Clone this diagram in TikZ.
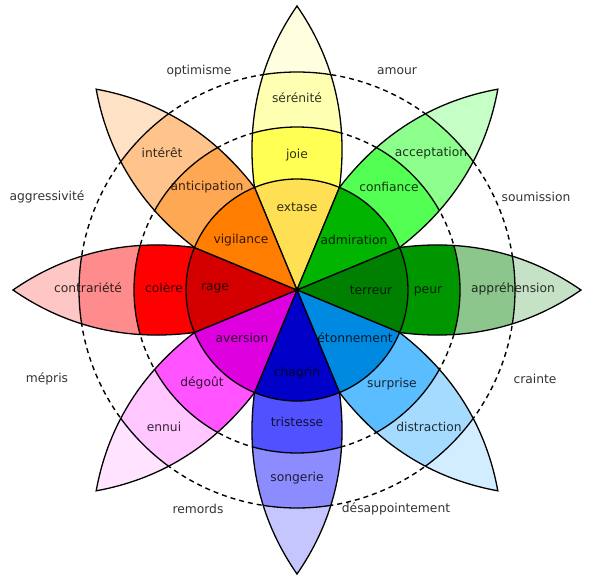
\documentclass[tikz,border=0pt]{standalone}
\usepackage{fontspec}
\setmainfont{DejaVu Sans}
\usepackage{tikz}
\usetikzlibrary{arrows.meta}

\definecolor{extaseC}{HTML}{FFE054}
\definecolor{joieC}{HTML}{FFFF54}
\definecolor{sereniteC}{HTML}{FFFFB1}
\definecolor{joieTip}{HTML}{FFFFE0}
\definecolor{admirationC}{HTML}{00B400}
\definecolor{confianceC}{HTML}{54FF54}
\definecolor{acceptationC}{HTML}{8CFF8C}
\definecolor{confianceTip}{HTML}{C6FFC6}
\definecolor{terreurC}{HTML}{008000}
\definecolor{peurC}{HTML}{009600}
\definecolor{apprehensionC}{HTML}{8CC68C}
\definecolor{peurTip}{HTML}{C6E2C6}
\definecolor{etonnementC}{HTML}{0089E0}
\definecolor{surpriseC}{HTML}{59BDFF}
\definecolor{distractionC}{HTML}{A5DBFF}
\definecolor{surpriseTip}{HTML}{D2EDFF}
\definecolor{chagrinC}{HTML}{0000C8}
\definecolor{tristesseC}{HTML}{5151FF}
\definecolor{songerieC}{HTML}{8C8CFF}
\definecolor{tristesseTip}{HTML}{C6C6FF}
\definecolor{aversionC}{HTML}{DE00DE}
\definecolor{degoutC}{HTML}{FF54FF}
\definecolor{ennuiC}{HTML}{FFC6FF}
\definecolor{degoutTip}{HTML}{FFE3FF}
\definecolor{rageC}{HTML}{D40000}
\definecolor{colereC}{HTML}{FF0000}
\definecolor{contrarieteC}{HTML}{FF8C8C}
\definecolor{colereTip}{HTML}{FFC6C6}
\definecolor{vigilanceC}{HTML}{FF7D00}
\definecolor{anticipationC}{HTML}{FFA854}
\definecolor{interetC}{HTML}{FFC48C}
\definecolor{anticipationTip}{HTML}{FFE2C6}

% one petal: angle, inner, middle, outer and tip colours
\newcommand{\petal}[5]{%
	\begin{scope}[shift={(297,290)}, rotate=#1]
		\begin{scope}
			\clip (0,0) -- (-42.5,-102.6) .. controls (-52,-175) and (-34,-235) .. (0,-284)
				.. controls (34,-235) and (52,-175) .. (42.5,-102.6) -- cycle;
			\fill [#5] (-70,-300) rectangle (70,0);
			\fill [#4] (0,0) circle (218);
			\fill [#3] (0,0) circle (163);
			\fill [#2] (0,0) circle (111);
			\draw [edge] (0,0) circle (111) (0,0) circle (163) (0,0) circle (218);
		\end{scope}
		\draw [edge] (0,0) -- (-42.5,-102.6) .. controls (-52,-175) and (-34,-235) .. (0,-284)
			.. controls (34,-235) and (52,-175) .. (42.5,-102.6) -- cycle;
	\end{scope}}

\begin{document}
\begin{tikzpicture}[x=1pt, y=-1pt,
	edge/.style={draw=black, line width=1.3pt},
	ring/.style={draw=black, line width=1.4pt, dash pattern=on 5pt off 4pt},
	lbl/.style={text=black, text opacity=0.8, font=\fontsize{12.3}{14}\selectfont, inner sep=0pt}]
	\useasboundingbox (0,0) rectangle (590,578);
	\coordinate (c) at (297,290);
	
	\draw [ring] (c) circle (163);
	\draw [ring] (c) circle (218);
	
	\petal{0}{extaseC}{joieC}{sereniteC}{joieTip}
	\petal{-45}{admirationC}{confianceC}{acceptationC}{confianceTip}
	\petal{-90}{terreurC}{peurC}{apprehensionC}{peurTip}
	\petal{-135}{etonnementC}{surpriseC}{distractionC}{surpriseTip}
	\petal{180}{chagrinC}{tristesseC}{songerieC}{tristesseTip}
	\petal{135}{aversionC}{degoutC}{ennuiC}{degoutTip}
	\petal{90}{rageC}{colereC}{contrarieteC}{colereTip}
	\petal{45}{vigilanceC}{anticipationC}{interetC}{anticipationTip}
	
	\node [lbl] (extase) at (297, 207) {extase};
	\node [lbl] (joie) at (297, 155) {joie};
	\node [lbl] (serenite) at (297, 98) {sérénité};
	
	\node [lbl] (admiration) at (354, 240) {admiration};
	\node [lbl] (confiance) at (389, 187) {confiance};
	\node [lbl] (acceptation) at (431, 153) {acceptation};
	
	\node [lbl] (terreur) at (371, 290) {terreur};
	\node [lbl] (peur) at (428, 291) {peur};
	\node [lbl] (apprehension) at (513, 289) {appréhension};
	
	\node [lbl] (etonnement) at (355, 338) {étonnement};
	\node [lbl] (surprise) at (392, 384) {surprise};
	\node [lbl] (distraction) at (429, 427) {distraction};
	
	\node [lbl] (chagrin) at (297, 373) {chagrin};
	\node [lbl] (tristesse) at (297, 422) {tristesse};
	\node [lbl] (songerie) at (297, 478) {songerie};
	
	\node [lbl] (aversion) at (242, 338) {aversion};
	\node [lbl] (degout) at (202, 383) {dégoût};
	\node [lbl] (ennui) at (164, 427) {ennui};
	
	\node [lbl] (rage) at (215, 288) {rage};
	\node [lbl] (colere) at (164, 288) {colère};
	\node [lbl] (contrariete) at (88, 288) {contrariété};
	
	\node [lbl] (vigilance) at (241, 240) {vigilance};
	\node [lbl] (anticipation) at (207, 187) {anticipation};
	\node [lbl] (interet) at (162, 153) {intérêt};
	
	\node [lbl] (optimisme) at (199, 71) {optimisme};
	\node [lbl] (amour) at (397, 71) {amour};
	\node [lbl] (soumission) at (536, 197) {soumission};
	\node [lbl] (crainte) at (535, 379) {crainte};
	\node [lbl] (desappointement) at (396, 509) {désappointement};
	\node [lbl] (remords) at (198, 509) {remords};
	\node [lbl] (mepris) at (47, 379) {mépris};
	\node [lbl] (aggressivite) at (47, 197) {aggressivité};
\end{tikzpicture}
\end{document}
